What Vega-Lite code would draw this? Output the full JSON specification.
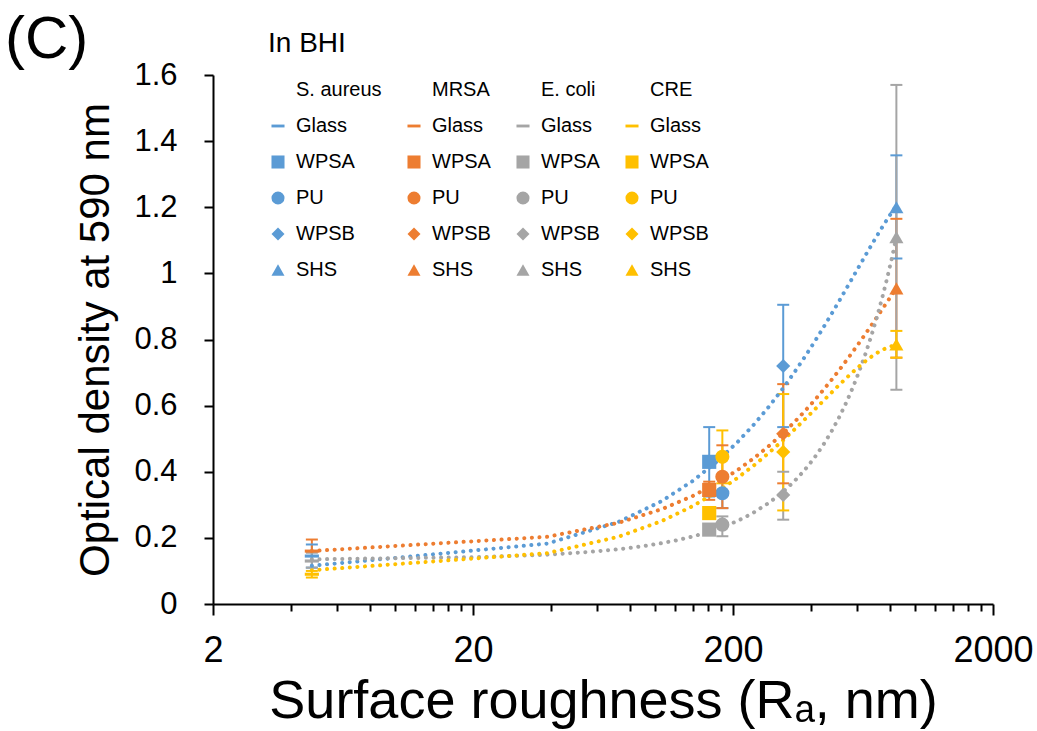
{
  "$schema": "https://vega.github.io/schema/vega-lite/v6.json",
  "width": 780,
  "height": 529,
  "autosize": {"type": "none"},
  "padding": {"left": 213, "top": 75, "right": 44, "bottom": 127},
  "config": {
    "font": "Liberation Sans",
    "view": {"stroke": null},
    "axis": {"grid": false, "domainColor": "black", "tickColor": "black", "labelColor": "black", "titleColor": "black", "domainWidth": 2, "tickWidth": 2, "titleFontWeight": "normal", "labelFont": "Liberation Sans", "titleFont": "Liberation Sans"}
  },
  "title": {"text": "(C)", "anchor": "start", "frame": "group", "fontSize": 60, "fontWeight": "normal", "color": "black", "font": "Liberation Sans", "dx": -208, "dy": 45},
  "data": {"values": [
    {"species": "S. aureus", "substrate": "Glass", "series": "S. aureus|Glass", "Ra": 4.8, "OD": 0.145, "lo": 0.11, "hi": 0.18},
    {"species": "S. aureus", "substrate": "WPSA", "series": "S. aureus|WPSA", "Ra": 162, "OD": 0.43, "lo": 0.325, "hi": 0.535},
    {"species": "S. aureus", "substrate": "PU", "series": "S. aureus|PU", "Ra": 182, "OD": 0.335, "lo": 0.29, "hi": 0.38},
    {"species": "S. aureus", "substrate": "WPSB", "series": "S. aureus|WPSB", "Ra": 312, "OD": 0.72, "lo": 0.535, "hi": 0.905},
    {"species": "S. aureus", "substrate": "SHS", "series": "S. aureus|SHS", "Ra": 850, "OD": 1.2, "lo": 1.045, "hi": 1.357},
    {"species": "MRSA", "substrate": "Glass", "series": "MRSA|Glass", "Ra": 4.8, "OD": 0.16, "lo": 0.13, "hi": 0.195},
    {"species": "MRSA", "substrate": "WPSA", "series": "MRSA|WPSA", "Ra": 162, "OD": 0.345, "lo": 0.315, "hi": 0.37},
    {"species": "MRSA", "substrate": "PU", "series": "MRSA|PU", "Ra": 182, "OD": 0.385, "lo": 0.29, "hi": 0.48},
    {"species": "MRSA", "substrate": "WPSB", "series": "MRSA|WPSB", "Ra": 312, "OD": 0.515, "lo": 0.365, "hi": 0.665},
    {"species": "MRSA", "substrate": "SHS", "series": "MRSA|SHS", "Ra": 850, "OD": 0.955, "lo": 0.745, "hi": 1.165},
    {"species": "E. coli", "substrate": "Glass", "series": "E. coli|Glass", "Ra": 4.8, "OD": 0.13, "lo": 0.11, "hi": 0.155},
    {"species": "E. coli", "substrate": "WPSA", "series": "E. coli|WPSA", "Ra": 162, "OD": 0.225, "lo": 0.21, "hi": 0.24},
    {"species": "E. coli", "substrate": "PU", "series": "E. coli|PU", "Ra": 182, "OD": 0.24, "lo": 0.205, "hi": 0.265},
    {"species": "E. coli", "substrate": "WPSB", "series": "E. coli|WPSB", "Ra": 312, "OD": 0.33, "lo": 0.255, "hi": 0.40},
    {"species": "E. coli", "substrate": "SHS", "series": "E. coli|SHS", "Ra": 850, "OD": 1.11, "lo": 0.648, "hi": 1.57},
    {"species": "CRE", "substrate": "Glass", "series": "CRE|Glass", "Ra": 4.8, "OD": 0.09, "lo": 0.08, "hi": 0.10},
    {"species": "CRE", "substrate": "WPSA", "series": "CRE|WPSA", "Ra": 162, "OD": 0.275, "lo": 0.265, "hi": 0.285},
    {"species": "CRE", "substrate": "PU", "series": "CRE|PU", "Ra": 182, "OD": 0.445, "lo": 0.365, "hi": 0.525},
    {"species": "CRE", "substrate": "WPSB", "series": "CRE|WPSB", "Ra": 312, "OD": 0.46, "lo": 0.283, "hi": 0.635},
    {"species": "CRE", "substrate": "SHS", "series": "CRE|SHS", "Ra": 850, "OD": 0.785, "lo": 0.745, "hi": 0.826}
  ]},
  "encoding": {
    "x": {
      "field": "Ra", "type": "quantitative",
      "scale": {"type": "log", "domain": [2, 2000], "nice": false},
      "axis": {
        "title": "Surface roughness (Rₐ, nm)",
        "values": [2,4,6,8,10,12,14,16,18,20,40,60,80,100,120,140,160,180,200,400,600,800,1000,1200,1400,1600,1800,2000],
        "format": "d",
        "labelExpr": "indexof([2,20,200,2000], datum.value) >= 0 ? datum.label : ''",
        "labelOverlap": false,
        "labelFlush": false,
        "labelFontSize": 36,
        "labelPadding": 18,
        "tickSize": {"condition": {"test": "indexof([2,20,200,2000], datum.value) >= 0", "value": 11}, "value": 7},
        "titleFontSize": 54,
        "titlePadding": 6
      }
    },
    "y": {
      "field": "OD", "type": "quantitative",
      "scale": {"domain": [0, 1.6], "nice": false},
      "axis": {"title": "Optical density at 590 nm", "values": [0, 0.2, 0.4, 0.6, 0.8, 1, 1.2, 1.4, 1.6], "format": ".1~f", "labelFontSize": 31, "labelPadding": 27, "tickSize": 9, "titleFontSize": 42, "titlePadding": 16}
    }
  },
  "layer": [
    {
      "mark": {"type": "rule", "strokeWidth": 2},
      "encoding": {
        "y": {"field": "lo", "type": "quantitative"},
        "y2": {"field": "hi"},
        "stroke": {
          "field": "species", "type": "nominal", "legend": null,
          "scale": {"domain": ["S. aureus","MRSA","E. coli","CRE"], "range": ["#5B9BD5","#ED7D31","#A5A5A5","#FFC000"]}
        }
      }
    },
    {
      "mark": {"type": "tick", "orient": "horizontal", "size": 12, "thickness": 2, "opacity": 1},
      "encoding": {
        "y": {"field": "lo", "type": "quantitative"},
        "fill": {
          "field": "species", "type": "nominal", "legend": null,
          "scale": {"domain": ["S. aureus","MRSA","E. coli","CRE"], "range": ["#5B9BD5","#ED7D31","#A5A5A5","#FFC000"]}
        }
      }
    },
    {
      "mark": {"type": "tick", "orient": "horizontal", "size": 12, "thickness": 2, "opacity": 1},
      "encoding": {
        "y": {"field": "hi", "type": "quantitative"},
        "fill": {
          "field": "species", "type": "nominal", "legend": null,
          "scale": {"domain": ["S. aureus","MRSA","E. coli","CRE"], "range": ["#5B9BD5","#ED7D31","#A5A5A5","#FFC000"]}
        }
      }
    },
    {
      "transform": [{"regression": "OD", "on": "Ra", "groupby": ["species"], "method": "poly", "order": 2}],
      "mark": {"type": "line", "strokeWidth": 4, "strokeDash": [0.1, 7.5], "strokeCap": "round"},
      "encoding": {
        "stroke": {
          "field": "species", "type": "nominal", "legend": null,
          "scale": {"domain": ["S. aureus","MRSA","E. coli","CRE"], "range": ["#5B9BD5","#ED7D31","#A5A5A5","#FFC000"]}
        }
      }
    },
    {
      "mark": {"type": "point", "filled": true, "opacity": 1, "size": 200},
      "encoding": {
        "color": {
          "field": "series", "type": "nominal",
          "scale": {
            "domain": ["S. aureus","MRSA","E. coli","CRE","S. aureus|Glass","MRSA|Glass","E. coli|Glass","CRE|Glass","S. aureus|WPSA","MRSA|WPSA","E. coli|WPSA","CRE|WPSA","S. aureus|PU","MRSA|PU","E. coli|PU","CRE|PU","S. aureus|WPSB","MRSA|WPSB","E. coli|WPSB","CRE|WPSB","S. aureus|SHS","MRSA|SHS","E. coli|SHS","CRE|SHS"],
            "range": ["#ffffff","#ffffff","#ffffff","#ffffff","#5B9BD5","#ED7D31","#A5A5A5","#FFC000","#5B9BD5","#ED7D31","#A5A5A5","#FFC000","#5B9BD5","#ED7D31","#A5A5A5","#FFC000","#5B9BD5","#ED7D31","#A5A5A5","#FFC000","#5B9BD5","#ED7D31","#A5A5A5","#FFC000"]
          },
          "legend": {
            "title": "In BHI", "orient": "none", "legendX": 55, "legendY": -45, "direction": "horizontal",
            "columns": 4, "columnPadding": 22, "rowPadding": 16,
            "symbolSize": 170, "symbolStrokeWidth": 0,
            "labelFontSize": 20, "labelFont": "Liberation Sans", "labelColor": "black", "labelOffset": 8, "labelLimit": 300,
            "titleFontSize": 28, "titleFont": "Liberation Sans", "titleFontWeight": "normal", "titleColor": "black", "titlePadding": 22,
            "labelExpr": "indexof(datum.value, '|') >= 0 ? substring(datum.value, indexof(datum.value, '|') + 1) : datum.value"
          }
        },
        "shape": {
          "field": "series", "type": "nominal",
          "scale": {
            "domain": ["S. aureus","MRSA","E. coli","CRE","S. aureus|Glass","MRSA|Glass","E. coli|Glass","CRE|Glass","S. aureus|WPSA","MRSA|WPSA","E. coli|WPSA","CRE|WPSA","S. aureus|PU","MRSA|PU","E. coli|PU","CRE|PU","S. aureus|WPSB","MRSA|WPSB","E. coli|WPSB","CRE|WPSB","S. aureus|SHS","MRSA|SHS","E. coli|SHS","CRE|SHS"],
            "range": ["M0,0Z","M0,0Z","M0,0Z","M0,0Z","M-1,-0.22L1,-0.22L1,0.22L-1,0.22Z","M-1,-0.22L1,-0.22L1,0.22L-1,0.22Z","M-1,-0.22L1,-0.22L1,0.22L-1,0.22Z","M-1,-0.22L1,-0.22L1,0.22L-1,0.22Z","square","square","square","square","circle","circle","circle","circle","diamond","diamond","diamond","diamond","triangle-up","triangle-up","triangle-up","triangle-up"]
          },
          "legend": {
            "title": "In BHI", "orient": "none", "legendX": 55, "legendY": -45, "direction": "horizontal",
            "columns": 4, "columnPadding": 22, "rowPadding": 16,
            "symbolSize": 170, "symbolStrokeWidth": 0,
            "labelFontSize": 20, "labelFont": "Liberation Sans", "labelColor": "black", "labelOffset": 8, "labelLimit": 300,
            "titleFontSize": 28, "titleFont": "Liberation Sans", "titleFontWeight": "normal", "titleColor": "black", "titlePadding": 22,
            "labelExpr": "indexof(datum.value, '|') >= 0 ? substring(datum.value, indexof(datum.value, '|') + 1) : datum.value"
          }
        }
      }
    }
  ]
}
